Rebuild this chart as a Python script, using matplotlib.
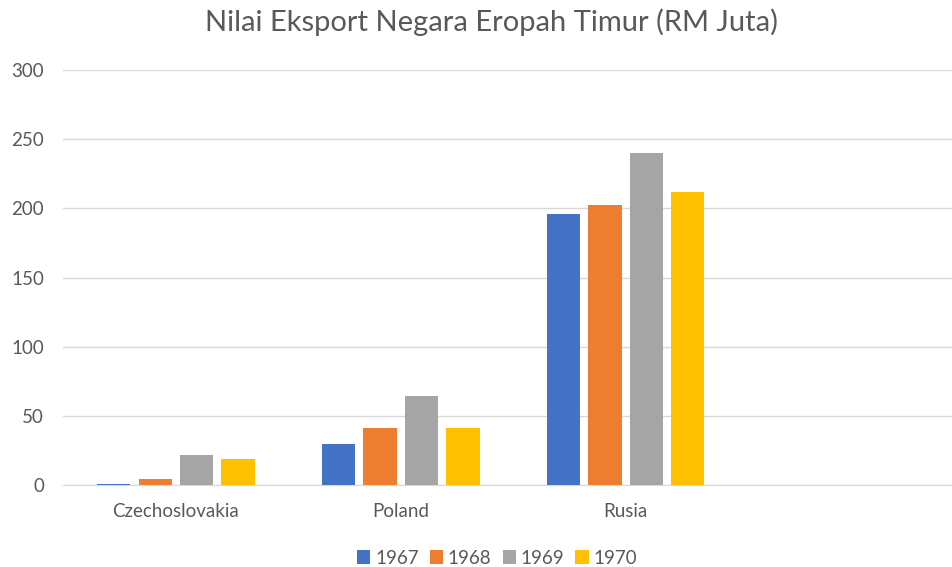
import matplotlib.pyplot as plt
import numpy as np

plt.rcParams['font.family'] = ['Lato', 'DejaVu Sans']

countries = ["Czechoslovakia", "Poland", "Rusia", ""]
years = ["1967", "1968", "1969", "1970"]
v1967 = [1, 29.5, 196, 0]
v1968 = [4, 41.5, 202.5, 0]
v1969 = [21.5, 64.5, 240, 0]
v1970 = [19, 41.5, 212, 0]
colors = ["#4472C4", "#ED7D31", "#A5A5A5", "#FFC000"]

fig = plt.figure(figsize=(9.53, 5.67), dpi=100)
ax = fig.add_axes([0.0666, 0.1446, 0.944, 0.7319])

x = np.arange(len(countries))
step = 0.184
width = 0.148
series = [v1967, v1968, v1969, v1970]
for i, vals in enumerate(series):
    ax.bar(x + (i - 1.5) * step, vals, width, color=colors[i], label=years[i], zorder=3)

ax.set_xlim(-0.5, 3.5)
ax.set_ylim(0, 300)
ax.set_yticks(range(0, 301, 50))
ax.set_xticks(x)
ax.set_xticklabels(countries)
ax.yaxis.grid(True, color="#d9d9d9", linewidth=1, zorder=0)
for s in ["top", "right", "left"]:
    ax.spines[s].set_visible(False)
ax.spines["bottom"].set_color("#d9d9d9")
ax.tick_params(axis="both", length=0, colors="#595959", labelsize=13.5)
ax.tick_params(axis="x", pad=13)
ax.tick_params(axis="y", pad=14)

fig.text(0.516, 0.96, "Nilai Eksport Negara Eropah Timur (RM Juta)", ha="center", va="center",
         fontsize=21, color="#595959")

ax.legend(loc="upper center", bbox_to_anchor=(0.482, -0.115), ncol=4, frameon=False,
          fontsize=13.5, labelcolor="#595959", handlelength=0.7, handleheight=0.7,
          handletextpad=0.25, columnspacing=0.6)

fig.savefig("out.png")
